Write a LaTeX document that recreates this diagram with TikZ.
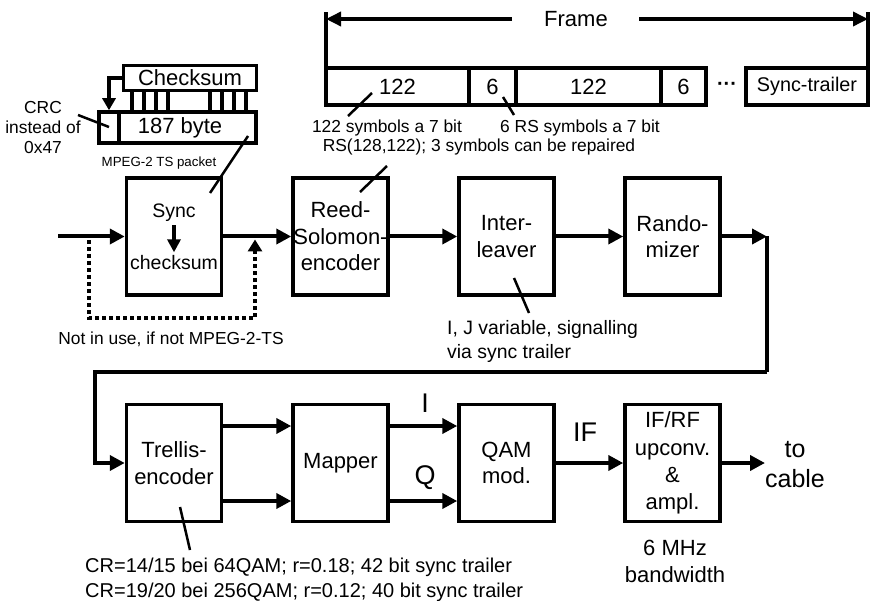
\documentclass[tikz,border=0pt]{standalone}
\usepackage{fontspec}
\setmainfont{Liberation Sans}
\usetikzlibrary{arrows.meta}
\tikzset{
  blk/.style={draw, line width=3.5pt, inner sep=0pt, minimum width=95pt, minimum height=117pt,
    align=center, font=\fontsize{22}{26.5}\selectfont},
  cellbox/.style={draw, line width=3.5pt, inner sep=0pt, minimum height=37pt,
    font=\fontsize{22}{26}\selectfont},
  conn/.style={line width=4pt},
  arr/.style={line width=4pt, -{Triangle[length=15pt,width=15pt]}},
  smallarr/.style={line width=3.5pt, -{Triangle[length=13pt,width=13pt]}},
  dotline/.style={line width=4pt, dash pattern=on 4pt off 3pt, -{Triangle[length=12pt,width=14pt]}},
  ann/.style={line width=2.5pt},
  tickline/.style={line width=3.5pt},
  note/.style={inner sep=0pt, font=\fontsize{17.4}{20}\selectfont},
  bigtxt/.style={inner sep=0pt, font=\fontsize{22}{27}\selectfont},
  hugetxt/.style={inner sep=0pt, font=\fontsize{27}{30}\selectfont},
}
\begin{document}
\begin{tikzpicture}[x=1pt, y=-1pt]
\useasboundingbox (0,0) rectangle (874,601);

% ---------- Frame header ----------
\coordinate (fLt) at (326,12);
\coordinate (fLb) at (326,67);
\coordinate (fRt) at (868,12);
\coordinate (fRb) at (868,67);
\coordinate (fL) at (326,19);
\coordinate (fR) at (868,19);
\coordinate (fa1) at (512,19);
\coordinate (fa2) at (639,19);
\draw[tickline] (fLb) -- (fLt);
\draw[tickline] (fRb) -- (fRt);
\draw[line width=3.5pt, -{Triangle[length=15pt,width=14pt]}] (fa1) -- (fL);
\draw[line width=3.5pt, -{Triangle[length=15pt,width=14pt]}] (fa2) -- (fR);
\node[bigtxt] (frame) at (576,19) {Frame};

\node[cellbox, minimum width=143pt] (f1) at (397.5,86.5) {122};
\node[cellbox, minimum width=47pt] (f2) at (492.5,86.5) {6};
\node[cellbox, minimum width=145pt] (f3) at (588.5,86.5) {122};
\node[cellbox, minimum width=45pt] (f4) at (683.5,86.5) {6};
\node[inner sep=0pt, font=\bfseries\fontsize{20}{24}\selectfont] (fdots) at (727,86) {···};
\node[cellbox, minimum width=122pt, font=\fontsize{19.8}{24}\selectfont] (f5) at (807,86.5) {Sync-trailer};

\node[note] (n122) at (387,128) {122 symbols a 7 bit};
\node[note] (n6) at (580,128) {6 RS symbols a 7 bit};
\node[note] (nrs) at (479,147) {RS(128,122); 3 symbols can be repaired};
\coordinate (a1s) at (372,93); \coordinate (a1e) at (348,116);
\coordinate (a2s) at (503,97); \coordinate (a2e) at (514,115);
\draw[ann] (a1s) -- (a1e);
\draw[ann] (a2s) -- (a2e);

% ---------- TS packet ----------
\node[draw, line width=3.5pt, inner sep=0pt, minimum width=133pt, minimum height=25pt,
  font=\fontsize{22}{26}\selectfont] (chk) at (190,78) {Checksum};
\node[draw, line width=3.5pt, inner sep=0pt, minimum width=20pt, minimum height=31pt] (crc) at (109,127.5) {};
\node[draw, line width=3.5pt, inner sep=0pt, minimum width=137pt, minimum height=31pt] (byte) at (187.5,127.5) {};
\node[bigtxt] (bytetxt) at (180,128) {187 byte};
\draw[line width=3.5pt, -{Triangle[length=12pt,width=13pt]}] (chk.west) -| (crc.north);
\foreach \x in {132,144,156,168,210,222,234,246}
  \draw[tickline] ({\x},92) -- ({\x},110);

\node[note, align=center] (crctxt) at (43,128) {CRC\\instead of\\0x47};
\coordinate (c1s) at (78,115); \coordinate (c1e) at (109,127);
\draw[ann] (c1s) -- (c1e);
\node[inner sep=0pt, font=\fontsize{13.3}{16}\selectfont] (mpeg) at (159,163) {MPEG-2 TS packet};
\coordinate (m1s) at (248,136); \coordinate (m1e) at (210,193);
\draw[ann] (m1s) -- (m1e);

% ---------- Row 1 ----------
\node[blk] (sync) at (174,236.5) {};
\node[font=\fontsize{19.5}{23}\selectfont] (synct) at (174,213) {Sync};
\node[font=\fontsize{19.5}{23}\selectfont] (chkt) at (174,263) {checksum};
\draw[smallarr] (synct.south) -- (chkt.north);

\node[blk] (rs) at (340.5,236.5) {Reed-\\Solomon-\\encoder};
\node[blk] (il) at (506.5,236.5) {Inter-\\leaver};
\node[blk] (rnd) at (672.5,236.5) {Rando-\\mizer};

\coordinate (in) at (58,236.5);
\draw[arr] (in) -- (sync.west);
\draw[arr] (sync.east) -- (rs.west);
\draw[arr] (rs.east) -- (il.west);
\draw[arr] (il.east) -- (rnd.west);
\coordinate (corner) at (767,236.5);
\draw[arr] (rnd.east) -- (corner);

% bypass (dotted)
\coordinate (d1) at (89,240);
\coordinate (d2) at (89,318);
\coordinate (d3) at (255,318);
\coordinate (d4) at (255,239.5);
\draw[dotline] (d1) -- (d2) -- (d3) -- (d4);
\node[note] (notuse) at (171,339) {Not in use, if not MPEG-2-TS};

% annotations row 1
\coordinate (r1s) at (387,166); \coordinate (r1e) at (360,192);
\draw[ann] (r1s) -- (r1e);
\coordinate (i1s) at (514,278); \coordinate (i1e) at (529,313);
\draw[ann] (i1s) -- (i1e);
\node[anchor=west, align=left, inner sep=0pt, font=\fontsize{19.4}{24}\selectfont] (iltxt) at (447,341)
  {I, J variable, signalling\\via sync trailer};

% ---------- Row 3 ----------
\node[blk] (tr) at (174,463) {Trellis-\\encoder};
\node[blk] (map) at (340.5,463) {Mapper};
\node[blk] (qam) at (506.5,463) {QAM\\mod.};
\node[blk, font=\fontsize{22}{27.3}\selectfont] (ifrf) at (672.5,463) {IF/RF\\upconv.\\\&\\ampl.};

% return line
\coordinate (rb1) at (767,372);
\coordinate (rb2) at (95,372);
\draw[conn] (corner) -- (rb1);
\draw[arr] (rb1) -- (rb2) |- (tr.west);

\draw[arr] ([yshift=37pt]tr.east) -- ([yshift=37pt]map.west);
\draw[arr] ([yshift=-38pt]tr.east) -- ([yshift=-38pt]map.west);
\draw[arr] ([yshift=37pt]map.east) -- ([yshift=37pt]qam.west);
\draw[arr] ([yshift=-38pt]map.east) -- ([yshift=-38pt]qam.west);
\node[hugetxt] (ilab) at (425,403) {I};
\node[hugetxt] (qlab) at (425,478) {Q};
\draw[arr] (qam.east) -- (ifrf.west);
\node[hugetxt] (iflab) at (585,432) {IF};
\coordinate (out) at (765,463);
\draw[arr] (ifrf.east) -- (out);
\node[align=center, inner sep=0pt, font=\fontsize{25}{30}\selectfont] (cable) at (795,465) {to\\cable};
\node[align=center, inner sep=0pt, font=\fontsize{22}{27}\selectfont] (bw) at (675,561) {6 MHz\\bandwidth};

\coordinate (t1s) at (180,507); \coordinate (t1e) at (190,550);
\draw[ann] (t1s) -- (t1e);
\node[anchor=west, align=left, inner sep=0pt, font=\fontsize{20}{25}\selectfont] (crtxt) at (85,579.5)
  {CR=14/15 bei 64QAM; r=0.18; 42 bit sync trailer\\CR=19/20 bei 256QAM; r=0.12; 40 bit sync trailer};
\end{tikzpicture}
\end{document}
